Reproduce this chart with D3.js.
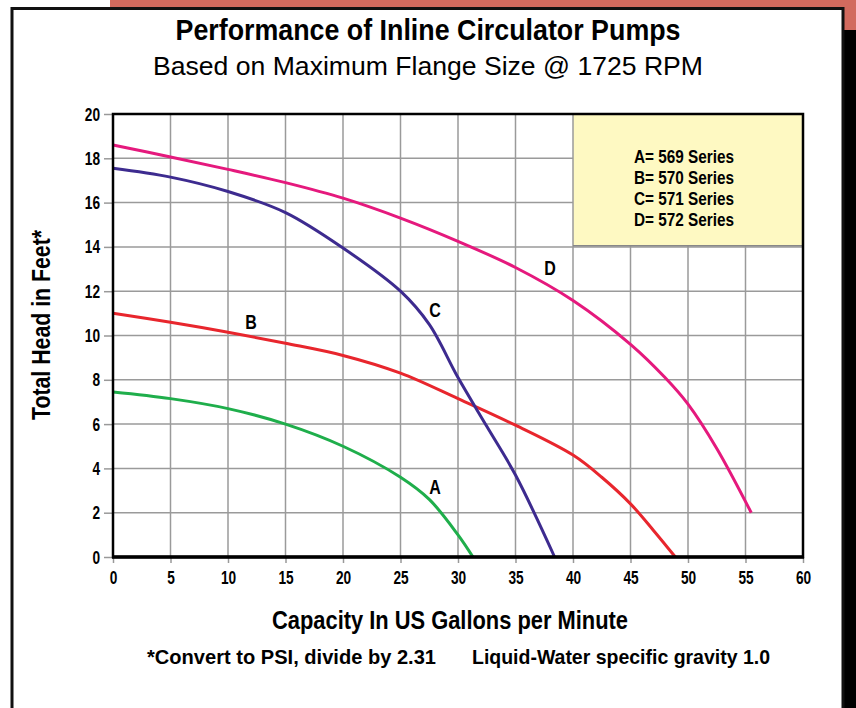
<!DOCTYPE html>
<html>
<head>
<meta charset="utf-8">
<script src="https://cdn.jsdelivr.net/npm/d3@7"></script>
<style>
  body { margin: 0; background: #fff; }
  text { font-family: "Liberation Sans", Arial, sans-serif; }
</style>
</head>
<body>
<div id="chart"></div>
<script>
// data: capacity (gpm) vs total head (ft)
var xTicks = [0, 5, 10, 15, 20, 25, 30, 35, 40, 45, 50, 55, 60];
var yTicks = [0, 2, 4, 6, 8, 10, 12, 14, 16, 18, 20];
var seriesNames = ["A", "B", "C", "D"];
var legendLabels = ["A= 569 Series", "B= 570 Series", "C= 571 Series", "D= 572 Series"];
var seriesColors = ["#1fae4b", "#e8262d", "#3d2b8f", "#e5197d"];

var curveA = [[0, 7.45], [5, 7.15], [10, 6.7], [15, 6.0], [20, 5.0], [25, 3.6], [27.5, 2.6], [30, 1.0], [31.3, 0]];
var curveB = [[0, 11.0], [5, 10.6], [10, 10.15], [15, 9.65], [20, 9.1], [25, 8.3], [30, 7.15], [35, 5.95], [40, 4.6], [42.5, 3.6], [45, 2.4], [47, 1.2], [48.9, 0]];
var curveC = [[0, 17.55], [5, 17.15], [10, 16.5], [15, 15.55], [20, 13.95], [25, 12.0], [27.5, 10.5], [30, 8.1], [32.5, 5.9], [35, 3.7], [38.4, 0]];
var curveD = [[0, 18.6], [5, 18.06], [10, 17.5], [15, 16.9], [20, 16.2], [25, 15.3], [30, 14.25], [35, 13.07], [40, 11.58], [45, 9.6], [48, 8.1], [50, 6.9], [52.5, 4.9], [55.5, 2.0]];
var allCurves = [curveA, curveB, curveC, curveD];

// set the dimensions of the page and the plot box
var W = 856, H = 708;
var margin = {top: 114, left: 113},
    width = 803 - 113,
    height = 557 - 114;

var svg = d3.select("#chart")
  .append("svg")
    .attr("width", W)
    .attr("height", H);

// squeeze a bold text to look like a condensed face
function narrow(sel, ratio) {
  sel.each(function() {
    var w = this.getComputedTextLength();
    d3.select(this).attr("textLength", w * ratio).attr("lengthAdjust", "spacingAndGlyphs");
  });
}
function fit(sel, w) {
  sel.attr("textLength", w).attr("lengthAdjust", "spacingAndGlyphs");
}

// decorations of the page: red strip, black edge and frame
svg.append("rect").attr("x", 110).attr("y", 0).attr("width", W - 110).attr("height", 8).attr("fill", "#d26a5e");
svg.append("rect").attr("x", 843).attr("y", 0).attr("width", 13).attr("height", 30).attr("fill", "#d26a5e");
svg.append("rect").attr("x", 843).attr("y", 30).attr("width", 13).attr("height", H - 30).attr("fill", "#000");
svg.append("path")
  .attr("d", "M12," + H + "V8.5H843V" + H)
  .attr("fill", "none")
  .attr("stroke", "#111")
  .attr("stroke-width", 3);

// titles
svg.append("text")
  .attr("x", 428).attr("y", 40)
  .attr("text-anchor", "middle")
  .style("font-size", "30px").style("font-weight", "bold")
  .text("Performance of Inline Circulator Pumps")
  .call(fit, 505);
svg.append("text")
  .attr("x", 428).attr("y", 75)
  .attr("text-anchor", "middle")
  .style("font-size", "25px")
  .text("Based on Maximum Flange Size @ 1725 RPM")
  .call(fit, 550);

var chart = svg.append("g")
  .attr("transform", "translate(" + margin.left + "," + margin.top + ")");

// scales
var x = d3.scaleLinear().domain([0, 60]).range([0, width]);
var y = d3.scaleLinear().domain([0, 20]).range([height, 0]);

// legend box sits in the top right corner, over the grid
var legTop = 14.05;
chart.append("rect")
  .attr("x", x(40)).attr("y", y(20))
  .attr("width", x(60) - x(40)).attr("height", y(legTop) - y(20))
  .attr("fill", "#fef9c2");

// grid
chart.append("g")
  .selectAll("line.v")
  .data(xTicks.slice(1, -1))
  .enter().append("line")
    .attr("x1", function(d) { return x(d) }).attr("x2", function(d) { return x(d) })
    .attr("y1", function(d) { return d > 40 ? y(legTop) : 0 })
    .attr("y2", height)
    .attr("stroke", "#9a9a9a").attr("stroke-width", 1.5);
chart.append("g")
  .selectAll("line.h")
  .data(yTicks.slice(1, -1))
  .enter().append("line")
    .attr("x1", 0)
    .attr("x2", function(d) { return d > legTop ? x(40) : width })
    .attr("y1", function(d) { return y(d) }).attr("y2", function(d) { return y(d) })
    .attr("stroke", "#9a9a9a").attr("stroke-width", 1.5);

// legend text
chart.append("g")
  .selectAll("text")
  .data(legendLabels)
  .enter().append("text")
    .attr("x", x(45.3))
    .attr("y", function(d, i) { return 49 + i * 21 })
    .style("font-size", "19px").style("font-weight", "bold")
    .text(function(d) { return d })
    .call(fit, 100);
chart.append("line")
  .attr("x1", x(40)).attr("x2", width).attr("y1", y(legTop)).attr("y2", y(legTop))
  .attr("stroke", "#888").attr("stroke-width", 1.5);

// Add X axis
var xAxis = chart.append("g")
  .attr("transform", "translate(0," + height + ")")
  .call(d3.axisBottom(x).tickValues(xTicks).tickSize(6).tickPadding(8));
// Add Y axis
var yAxis = chart.append("g")
  .call(d3.axisLeft(y).tickValues(yTicks).tickSize(9).tickPadding(4));
[xAxis, yAxis].forEach(function(a) {
  a.select(".domain").remove();
  a.selectAll("line").attr("stroke", "#999").attr("stroke-width", 1.5);
  a.selectAll("text")
    .style("font-size", "19px").style("font-weight", "bold")
    .attr("fill", "#000")
    .call(narrow, 0.72);
});

// the curves
var line = d3.line()
  .x(function(d) { return x(d[0]) })
  .y(function(d) { return y(d[1]) })
  .curve(d3.curveCatmullRom.alpha(0.5));
chart.append("g")
  .selectAll("path")
  .data(allCurves)
  .enter().append("path")
    .attr("fill", "none")
    .attr("stroke", function(d, i) { return seriesColors[i] })
    .attr("stroke-width", 3)
    .attr("d", line);

// curve letters, placed in data units
var letterAt = [[28, 2.85], [12, 10.3], [28, 10.85], [38, 12.73]];
chart.append("g")
  .selectAll("text")
  .data(seriesNames)
  .enter().append("text")
    .attr("x", function(d, i) { return x(letterAt[i][0]) })
    .attr("y", function(d, i) { return y(letterAt[i][1]) })
    .attr("text-anchor", "middle")
    .style("font-size", "20px").style("font-weight", "bold")
    .text(function(d) { return d })
    .call(narrow, 0.8);

// plot frame
chart.append("rect")
  .attr("width", width).attr("height", height)
  .attr("fill", "none").attr("stroke", "#000").attr("stroke-width", 2.5);
chart.append("line")
  .attr("x1", -1).attr("x2", width + 1).attr("y1", height).attr("y2", height)
  .attr("stroke", "#000").attr("stroke-width", 3.5);

// axis titles and the notes underneath
svg.append("text")
  .attr("transform", "translate(50,325) rotate(-90)")
  .attr("text-anchor", "middle")
  .style("font-size", "25px").style("font-weight", "bold")
  .text("Total Head in Feet*")
  .call(fit, 190);
svg.append("text")
  .attr("x", 450).attr("y", 629)
  .attr("text-anchor", "middle")
  .style("font-size", "25px").style("font-weight", "bold")
  .text("Capacity In US Gallons per Minute")
  .call(fit, 356);
svg.append("text")
  .attr("x", 147).attr("y", 664)
  .style("font-size", "21px").style("font-weight", "bold")
  .text("*Convert to PSI, divide by 2.31")
  .call(fit, 289);
svg.append("text")
  .attr("x", 472).attr("y", 664)
  .style("font-size", "21px").style("font-weight", "bold")
  .text("Liquid-Water specific gravity 1.0")
  .call(fit, 298);
</script>
</body>
</html>
